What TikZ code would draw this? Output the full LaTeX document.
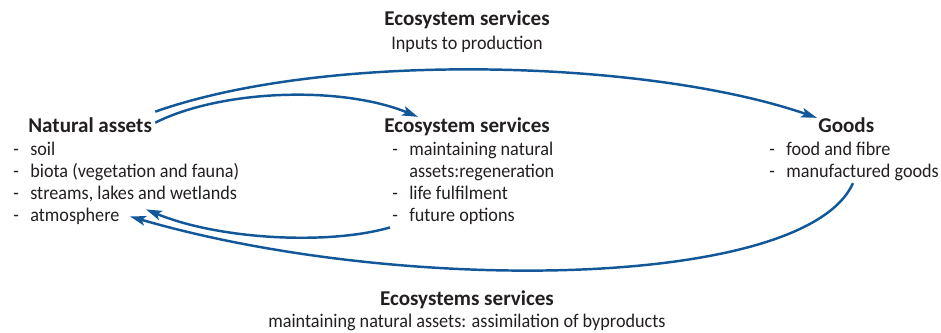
\documentclass[tikz,border=0pt]{standalone}
\usepackage{fontspec}
\setmainfont{Carlito}[FakeStretch=0.94]
\newfontfamily\headfont{Carlito}
\usepackage{tikz}
\usetikzlibrary{positioning,arrows.meta,calc}

\definecolor{flowblue}{RGB}{18,88,152}
\definecolor{inktext}{RGB}{35,31,32}

\begin{document}
\begin{tikzpicture}[
    x=0.02cm, y=-0.02cm,
    font=\fontsize{11}{12.6}\selectfont, text=inktext,
    flow/.style={-{Stealth[length=9pt, width=5.5pt, inset=2pt]}, flowblue, line width=1.4pt},
    head/.style={font=\fontsize{12}{12.6}\headfont\bfseries, inner sep=0pt},
    items/.style={inner sep=0pt, anchor=base west},
  ]
  \useasboundingbox (0,0) rectangle (941,332);

  % three blocks
  \node[head, anchor=base west] (natT) at (28,132) {Natural assets};
  \node[items] (natL) at (13,155)
    {\begin{tabular}[t]{@{}l@{\hspace{6.5pt}}l@{}}
      - & soil\\
      - & biota (vegetation and fauna)\\
      - & streams, lakes and wetlands\\
      - & atmosphere
     \end{tabular}};

  \node[head, anchor=base west] (ecoT) at (384,132) {Ecosystem services};
  \node[items] (ecoL) at (392,155)
    {\begin{tabular}[t]{@{}l@{\hspace{6.5pt}}l@{}}
      - & maintaining natural\\
        & assets:regeneration\\
      - & life fulfilment\\
      - & future options
     \end{tabular}};

  \node[head, anchor=base west] (goodsT) at (818,132) {Goods};
  \node[items] (goodsL) at (769,155)
    {\begin{tabular}[t]{@{}l@{\hspace{6.5pt}}l@{}}
      - & food and fibre\\
      - & manufactured goods
     \end{tabular}};

  % captions of the outer loops
  \node[head, anchor=base] (topT) at (467,25) {Ecosystem services};
  \node[inner sep=0pt, anchor=base] (topS) at (467,49) {Inputs to production};
  \node[head, anchor=base] (botT) at (467,305) {Ecosystems services};
  \node[inner sep=0pt, anchor=base] (botS) at (467,327)
    {maintaining natural assets: assimilation of byproducts};

  % flows
  \draw[flow] ([shift={(3,-13)}]natT.east) .. controls (330,50) and (650,60)
    .. ([shift={(-1,1)}]goodsT.north west);
  \draw[flow] ([shift={(3,-2)}]natT.east) .. controls (220,90) and (340,85)
    .. ([shift={(34,0)}]ecoT.north west);
  \draw[flow] ([shift={(-2,-1)}]ecoL.south west) .. controls (330,245) and (220,240)
    .. ([shift={(133,-19)}]natL.south west);
  \draw[flow] ([shift={(84,-1)}]goodsL.south west) .. controls (805,290) and (400,295)
    .. ([shift={(117,-12)}]natL.south west);
\end{tikzpicture}
\end{document}
